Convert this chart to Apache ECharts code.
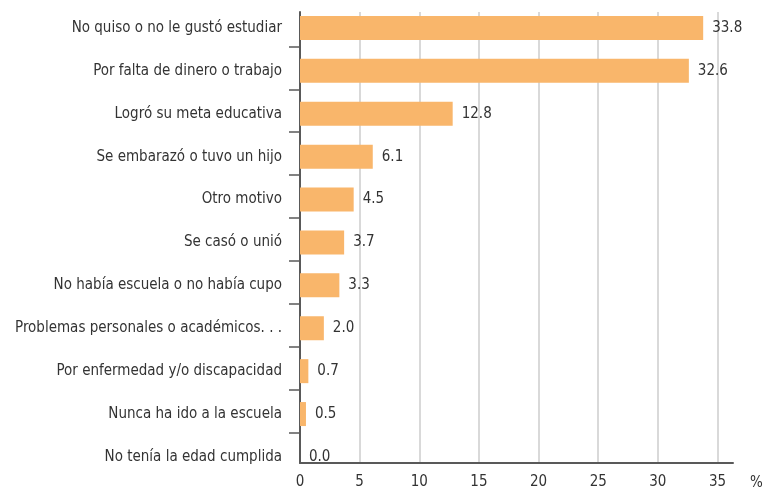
<!DOCTYPE html>
<html><head><meta charset="utf-8">
<script src="https://cdn.jsdelivr.net/npm/echarts@6/dist/echarts.min.js"></script>
<style>html,body{margin:0;padding:0;background:#fff}#c{width:766px;height:494px}</style>
</head><body><div id="c"></div>
<script>
var categories = [
  "No quiso o no le gustó estudiar",
  "Por falta de dinero o trabajo",
  "Logró su meta educativa",
  "Se embarazó o tuvo un hijo",
  "Otro motivo",
  "Se casó o unió",
  "No había escuela o no había cupo",
  "Problemas personales o académicos. . .",
  "Por enfermedad y/o discapacidad",
  "Nunca ha ido a la escuela",
  "No tenía la edad cumplida"
];
var values = [33.8, 32.6, 12.8, 6.1, 4.5, 3.7, 3.3, 2.0, 0.7, 0.5, 0.0];
var xTicks = [0, 5, 10, 15, 20, 25, 30, 35];
var categoryBoundaries = [1, 2, 3, 4, 5, 6, 7, 8, 9, 10];
var unitLabel = "%";

var FONT = "'DejaVu Sans Condensed', 'Liberation Sans Narrow', sans-serif";
var FS = 15;
var XMAX = 36.3;
var BAND = 42.9, TOP0 = 6.5, TICKSHIFT = 3;
var chart = echarts.init(document.getElementById('c'), null, {renderer: 'canvas'});
chart.setOption({
  animation: false,
  backgroundColor: '#ffffff',
  grid: [
    {left: 300, right: 33, top: TOP0, bottom: 494 - TOP0 - 11 * BAND, containLabel: false, outerBoundsMode: 'none'},
    {left: 300, right: 33, top: 12, bottom: 31, containLabel: false, outerBoundsMode: 'none'}
  ],
  xAxis: [
    {gridIndex: 0, type: 'value', min: 0, max: XMAX, show: false},
    {gridIndex: 1, type: 'value', min: 0, max: XMAX, interval: 5,
     axisLine: {show: true, lineStyle: {color: '#595959', width: 2}},
     axisTick: {show: false},
     splitLine: {show: true, showMinLine: false, showMaxLine: false, lineStyle: {color: '#cccccc', width: 1.5}},
     axisLabel: {show: true, showMaxLabel: false, margin: 12, fontFamily: FONT, fontSize: FS, color: '#333333',
       formatter: function (v) { return xTicks.indexOf(v) >= 0 ? String(v) : ''; }}
    }
  ],
  yAxis: [
    {gridIndex: 0, type: 'category', data: categories, inverse: true,
     axisLine: {show: false},
     axisTick: {show: false},
     axisLabel: {margin: 18, fontFamily: FONT, fontSize: FS, color: '#333333'}
    },
    {gridIndex: 1, type: 'value', inverse: true,
     min: (12 - TOP0 + TICKSHIFT) / BAND, max: (463 - TOP0 + TICKSHIFT) / BAND,
     axisLine: {show: true, lineStyle: {color: '#595959', width: 2}},
     axisTick: {show: true, length: 11, customValues: categoryBoundaries, lineStyle: {color: '#595959', width: 1.5}},
     axisLabel: {show: false}, splitLine: {show: false}
    }
  ],
  graphic: [
    {type: 'text', left: 750, top: 476, style: {text: unitLabel, fontFamily: FONT, fontSize: FS, fill: '#333333'}}
  ],
  series: [{
    type: 'bar', xAxisIndex: 0, yAxisIndex: 0,
    data: values, barWidth: 24,
    itemStyle: {color: '#F9B66B'},
    label: {show: true, position: 'right', distance: 9, fontFamily: FONT, fontSize: FS, color: '#333333',
      formatter: function (p) { return p.value.toFixed(1); }}
  }]
});
</script></body></html>
